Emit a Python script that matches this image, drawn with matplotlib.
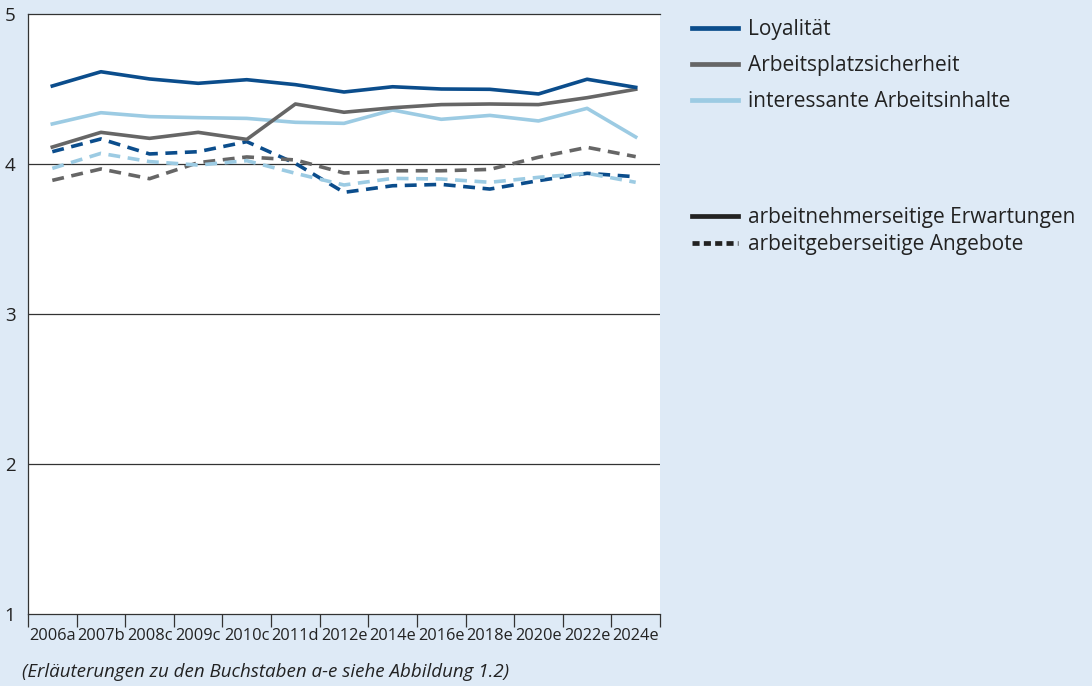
import matplotlib

matplotlib.use("Agg")
import matplotlib.pyplot as plt
from matplotlib.lines import Line2D
from matplotlib.ticker import FixedLocator, NullFormatter

plt.rcParams["font.family"] = ["Open Sans", "DejaVu Sans"]

years = ["2006a", "2007b", "2008c", "2009c", "2010c", "2011d", "2012e",
         "2014e", "2016e", "2018e", "2020e", "2022e", "2024e"]

# arbeitnehmerseitige Erwartungen (solid)
loyal_exp = [4.52, 4.615, 4.567, 4.538, 4.562, 4.529, 4.48,
             4.515, 4.50, 4.498, 4.467, 4.565, 4.511]
secure_exp = [4.113, 4.211, 4.171, 4.211, 4.164, 4.40, 4.345,
              4.375, 4.396, 4.40, 4.396, 4.442, 4.498]
content_exp = [4.267, 4.342, 4.316, 4.309, 4.304, 4.278, 4.271,
               4.36, 4.298, 4.324, 4.287, 4.371, 4.18]

# arbeitgeberseitige Angebote (dashed)
loyal_off = [4.082, 4.167, 4.067, 4.082, 4.149, 4.004, 3.811,
             3.855, 3.864, 3.833, 3.889, 3.938, 3.915]
secure_off = [3.891, 3.967, 3.902, 4.009, 4.047, 4.027, 3.94,
              3.955, 3.955, 3.964, 4.045, 4.111, 4.049]
content_off = [3.971, 4.071, 4.016, 3.993, 4.022, 3.938, 3.86,
               3.904, 3.90, 3.878, 3.911, 3.938, 3.878]

DARK = "#0b4d8c"
GRAY = "#666666"
LIGHT = "#9ccbe3"
BG = "#deeaf6"
TXT = "#222222"

fig = plt.figure(figsize=(10.92, 6.86), dpi=100, facecolor=BG)
ax = fig.add_axes([28 / 1092, 72 / 686, 632 / 1092, 600 / 686])
ax.set_facecolor("white")

x = list(range(len(years)))
dash = (0, (3.3, 2.1))
for vals, col in ((loyal_off, DARK), (secure_off, GRAY), (content_off, LIGHT)):
    ax.plot(x, vals, color=col, linewidth=2.6, linestyle=dash, zorder=3)
for vals, col in ((content_exp, LIGHT), (secure_exp, GRAY), (loyal_exp, DARK)):
    ax.plot(x, vals, color=col, linewidth=2.6, zorder=4)

ax.set_xlim(-0.5, len(years) - 0.5)
ax.set_ylim(1, 5)
ax.set_yticks([1, 2, 3, 4, 5])
ax.tick_params(axis="y", length=0, pad=9, labelsize=13.5, colors=TXT)
ax.set_xticks(x)
ax.set_xticklabels(years)
ax.tick_params(axis="x", which="major", length=0, pad=10, labelsize=11.8,
               colors=TXT)
ax.xaxis.set_minor_locator(FixedLocator([i - 0.5 for i in range(len(years) + 1)]))
ax.xaxis.set_minor_formatter(NullFormatter())
ax.tick_params(axis="x", which="minor", length=9, width=0.9, color="#333333")

for yv in (2, 3, 4):
    ax.axhline(yv, color="#333333", linewidth=0.9, zorder=2)

for side in ("left", "top", "bottom"):
    ax.spines[side].set_color("#333333")
    ax.spines[side].set_linewidth(0.9)
ax.spines["right"].set_visible(False)

h1 = [Line2D([], [], color=c, linewidth=3.4) for c in (DARK, GRAY, LIGHT)]
fig.legend(h1, ["Loyalität", "Arbeitsplatzsicherheit", "interessante Arbeitsinhalte"],
           loc="upper left", bbox_to_anchor=(692 / 1092, 1 - 19 / 686),
           frameon=False, fontsize=15, handlelength=2.2, handletextpad=0.5,
           borderpad=0, borderaxespad=0, labelspacing=0.72, labelcolor=TXT)
h2 = [Line2D([], [], color=TXT, linewidth=3.4),
      Line2D([], [], color=TXT, linewidth=3.4, linestyle=(0, (1.5, 0.9)))]
fig.legend(h2, ["arbeitnehmerseitige Erwartungen", "arbeitgeberseitige Angebote"],
           loc="upper left", bbox_to_anchor=(692 / 1092, 1 - 207 / 686),
           frameon=False, fontsize=15, handlelength=2.2, handletextpad=0.5,
           borderpad=0, borderaxespad=0, labelspacing=0.3, labelcolor=TXT)

fig.text(22 / 1092, 1 - 672 / 686,
         "(Erläuterungen zu den Buchstaben a-e siehe Abbildung 1.2)",
         fontsize=13.5, style="italic", color=TXT, va="center")

fig.savefig("out.png", dpi=100, facecolor=BG)
